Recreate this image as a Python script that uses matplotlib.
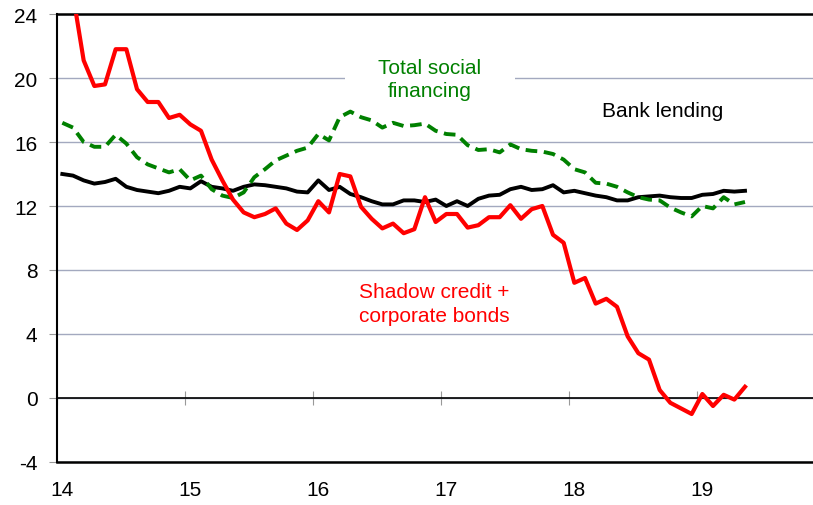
import numpy as np
import matplotlib
matplotlib.use('Agg')
import matplotlib.pyplot as plt
import matplotlib.transforms as mtransforms

plt.rcParams['font.family'] = ['Liberation Sans', 'DejaVu Sans']
plt.rcParams['axes.unicode_minus'] = False

# monthly data, Jan 2014 - May 2019 (% y/y)
start_year = 2014
bank_lending = [14.0, 13.9, 13.6, 13.4, 13.5, 13.7, 13.2, 13.0, 12.9, 12.8, 12.95, 13.2,
                13.1, 13.55, 13.2, 13.1, 12.95, 13.2, 13.35, 13.3, 13.2, 13.1, 12.9, 12.85,
                13.6, 13.0, 13.2, 12.75, 12.55, 12.3, 12.1, 12.1, 12.35, 12.35, 12.25, 12.4,
                12.0, 12.3, 12.0, 12.45, 12.65, 12.7, 13.05, 13.2, 13.0, 13.05, 13.3, 12.85,
                12.95, 12.8, 12.65, 12.55, 12.35, 12.35, 12.55, 12.6, 12.65, 12.55, 12.5, 12.5,
                12.7, 12.75, 12.95, 12.9, 12.95]
total_social = [17.2, 16.9, 16.0, 15.7, 15.7, 16.45, 15.9, 15.05, 14.6, 14.35, 14.1, 14.3,
                13.6, 13.9, 13.05, 12.65, 12.5, 12.85, 13.8, 14.3, 14.85, 15.15, 15.45, 15.65,
                16.5, 16.1, 17.55, 17.9, 17.55, 17.35, 16.9, 17.2, 17.0, 17.05, 17.15, 16.7,
                16.5, 16.45, 15.8, 15.5, 15.55, 15.35, 15.85, 15.55, 15.45, 15.4, 15.25, 14.9,
                14.3, 14.1, 13.45, 13.4, 13.2, 12.85, 12.55, 12.4, 12.35, 11.9, 11.6, 11.35,
                12.0, 11.85, 12.55, 12.1, 12.25]
shadow_bonds = [27.0, 25.2, 21.1, 19.5, 19.6, 21.8, 21.8, 19.3, 18.5, 18.5, 17.5, 17.7,
                17.1, 16.7, 14.9, 13.6, 12.4, 11.6, 11.3, 11.5, 11.85, 10.9, 10.5, 11.1,
                12.3, 11.6, 14.0, 13.85, 11.95, 11.2, 10.6, 10.9, 10.3, 10.55, 12.55, 11.0,
                11.5, 11.5, 10.65, 10.8, 11.3, 11.3, 12.05, 11.2, 11.8, 12.0, 10.2, 9.7,
                7.2, 7.5, 5.9, 6.2, 5.7, 3.85, 2.8, 2.4, 0.5, -0.3, -0.65, -1.0,
                0.25, -0.5, 0.2, -0.1, 0.7]
year_ticks = [14, 15, 16, 17, 18, 19]

# x position: two-digit year + mid-month
months = np.arange(len(bank_lending))
x = (start_year - 2000) + (months + 0.5) / 12

fig = plt.figure(figsize=(8.13, 5.06), dpi=100)
ax = fig.add_axes([57 / 813, 43 / 506, 1 - 57 / 813, 448 / 506])
ax.set_axisbelow(True)

ax.plot(x, bank_lending, color='black', lw=2.8, zorder=3)
ax.plot(x, total_social, color='#008000', lw=2.8, linestyle=(0, (3.0, 1.7)), zorder=4)
ax.plot(x, shadow_bonds, color='#ff0000', lw=3.0, zorder=5)

ax.set_xlim(14, 14 + (813 - 57) / 128)
ax.set_ylim(-4, 24)
ax.set_yticks(np.arange(-4, 25, 4))
ax.set_xticks(year_ticks)
ax.set_xticklabels([str(t) for t in year_ticks])

ax.grid(axis='y', color='#a3a9bf', lw=1.0)
ax.axhline(0, color='black', lw=1.2, zorder=2)

for s in ['left', 'bottom', 'top']:
    ax.spines[s].set_color('black')
ax.spines['left'].set_linewidth(1.5)
ax.spines['bottom'].set_linewidth(1.8)
ax.spines['top'].set_linewidth(1.8)
ax.spines['right'].set_visible(False)

ax.tick_params(axis='y', direction='out', length=6, width=0.8, color='#999999',
               labelsize=15, pad=8)
ax.tick_params(axis='x', length=0, labelsize=15, pad=13)
shift = mtransforms.ScaledTranslation(5 / 100, 0, fig.dpi_scale_trans)
for lbl in ax.get_xticklabels():
    lbl.set_transform(lbl.get_transform() + shift)

# year ticks crossing the zero line
sec = ax.secondary_xaxis(4 / 28)
sec.set_xticks(year_ticks)
sec.tick_params(direction='inout', length=10, width=0.8, color='#999999', labelbottom=False)
sec.spines['bottom'].set_visible(False)

# white box behind the label breaks the 20 gridline, kept under the lines
ax.text(16.914, 19.94, 'Total social\nfinancing', color='#008000', fontsize=15,
        ha='center', va='center', zorder=2.6, linespacing=1.3,
        bbox=dict(facecolor='white', edgecolor='none', boxstyle='square,pad=1.6'))
ax.text(18.73, 17.94, 'Bank lending', color='black', fontsize=15,
        ha='center', va='center', zorder=6)
ax.text(16.95, 5.9, 'Shadow credit +\ncorporate bonds', color='#ff0000', fontsize=15,
        ha='center', va='center', zorder=6, linespacing=1.3)

fig.savefig('out.png', dpi=100)
